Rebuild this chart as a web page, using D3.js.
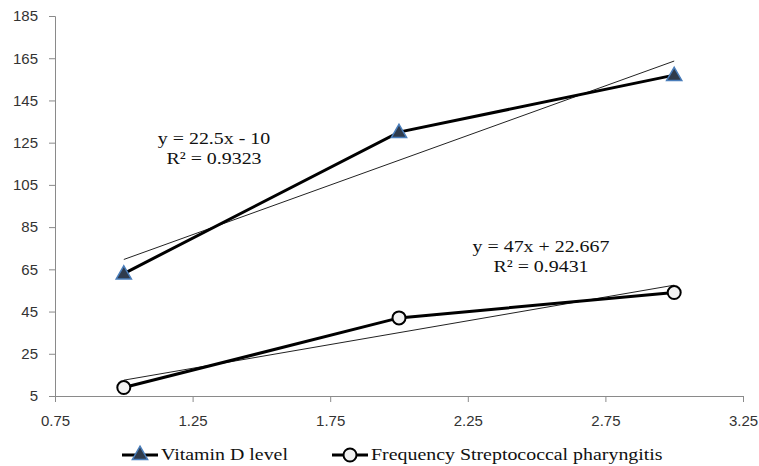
<!DOCTYPE html>
<html>
<head>
<meta charset="utf-8">
<script src="https://cdn.jsdelivr.net/npm/d3@7"></script>
<style>
  body { margin: 0; background: #fff; }
  .tick text { font-family: "Liberation Sans", Arial, sans-serif; font-size: 15px; fill: #333; }
  .lbl { font-family: "Liberation Serif", "Times New Roman", serif; font-size: 17px; fill: #111; }
</style>
</head>
<body>
<div id="chart"></div>
<script>
// Data
const xValues = [1, 2, 3];
const vitaminD = [63, 130, 157];
const strepFreq = [9, 42, 54];
const yTicks = [5, 25, 45, 65, 85, 105, 125, 145, 165, 185];
const xTicks = [0.75, 1.25, 1.75, 2.25, 2.75, 3.25];
const seriesNames = ["Vitamin D level", "Frequency Streptococcal pharyngitis"];
const eqLabels = [
  ["y = 22.5x - 10", "R\u00b2 = 0.9323"],
  ["y = 47x + 22.667", "R\u00b2 = 0.9431"]
];

// least squares fit
function fit(xs, ys) {
  const mx = d3.mean(xs), my = d3.mean(ys);
  const slope = d3.sum(xs, (x, i) => (x - mx) * (ys[i] - my)) / d3.sum(xs, x => (x - mx) * (x - mx));
  return { slope: slope, intercept: my - slope * mx };
}

const width = 759, height = 466;
var margin = { top: 16, right: 16, bottom: 70, left: 55 };
const stretch = 1.17; // text in the reference is a bit wide

const svg = d3.select("#chart").append("svg")
  .attr("width", width)
  .attr("height", height);

var x = d3.scaleLinear()
  .domain([0.75, 3.25])
  .range([margin.left, width - margin.right]);

var y = d3.scaleLinear()
  .domain([5, 185])
  .range([height - margin.bottom, margin.top]);

// Axes
const xAxis = svg.append("g")
  .attr("transform", "translate(0," + y(5) + ")")
  .call(d3.axisBottom(x).tickValues(xTicks).tickFormat(d3.format(".2f")).tickSize(6).tickPadding(13));
const yAxis = svg.append("g")
  .attr("transform", "translate(" + x(0.75) + ",0)")
  .call(d3.axisLeft(y).tickValues(yTicks).tickSize(6).tickPadding(11));
[xAxis, yAxis].forEach(a => {
  a.select(".domain").attr("stroke", "#8a8a8a");
  a.selectAll(".tick line").attr("stroke", "#8a8a8a");
});

// Trend lines (thin)
[vitaminD, strepFreq].forEach(vals => {
  const f = fit(xValues, vals);
  svg.append("line")
    .attr("x1", x(1)).attr("y1", y(f.slope * 1 + f.intercept))
    .attr("x2", x(3)).attr("y2", y(f.slope * 3 + f.intercept))
    .attr("stroke", "#222")
    .attr("stroke-width", 1);
});

const line = d3.line()
  .x((d, i) => x(xValues[i]))
  .y(d => y(d));

// Series lines
[vitaminD, strepFreq].forEach(vals => {
  svg.append("path")
    .datum(vals)
    .attr("d", line)
    .attr("fill", "none")
    .attr("stroke", "#000")
    .attr("stroke-width", 3);
});

const tri = d3.symbol().type(d3.symbolTriangle).size(100);

function triangle(g, cx, cy) {
  g.append("path")
    .attr("d", tri)
    .attr("transform", "translate(" + cx + "," + (cy + 1) + ")")
    .attr("fill", "#2f3b4c")
    .attr("stroke", "#4a7ebb")
    .attr("stroke-width", 1.5);
}
function circle(g, cx, cy) {
  g.append("circle")
    .attr("cx", cx).attr("cy", cy).attr("r", 6.5)
    .attr("fill", "#f2f2f2")
    .attr("stroke", "#000")
    .attr("stroke-width", 2);
}

vitaminD.forEach((v, i) => triangle(svg, x(xValues[i]), y(v)));
strepFreq.forEach((v, i) => circle(svg, x(xValues[i]), y(v)));

// Equation labels
const eqPos = [[214, 144], [541, 252]];
eqLabels.forEach((lines, k) => {
  lines.forEach((t, j) => {
    svg.append("text")
      .attr("class", "lbl")
      .attr("transform", "translate(" + eqPos[k][0] + "," + (eqPos[k][1] + j * 20) + ") scale(" + stretch + ",1)")
      .attr("text-anchor", "middle")
      .text(t);
  });
});

// Legend
const legY = 460;
const leg = svg.append("g");
[[122, 0], [332, 1]].forEach(([lx, k]) => {
  leg.append("line")
    .attr("x1", lx).attr("x2", lx + 36)
    .attr("y1", legY - 5).attr("y2", legY - 5)
    .attr("stroke", "#000").attr("stroke-width", 3);
  if (k === 0) triangle(leg, lx + 18, legY - 6);
  else circle(leg, lx + 18, legY - 5);
  leg.append("text")
    .attr("class", "lbl")
    .attr("transform", "translate(" + (lx + 39) + "," + legY + ") scale(" + stretch + ",1)")
    .text(seriesNames[k]);
});
</script>
</body>
</html>
